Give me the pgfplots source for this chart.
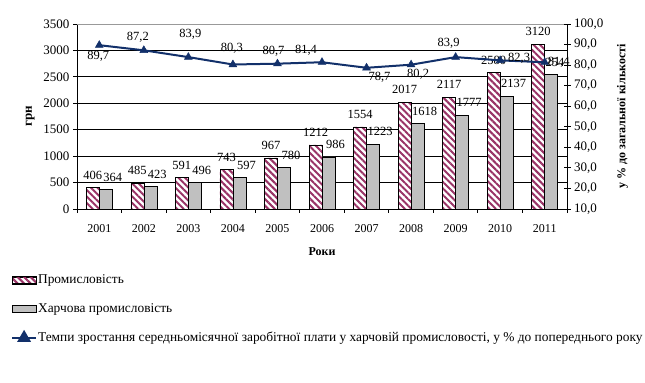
\documentclass[border=0pt]{standalone}
\usepackage{fontspec}
\setmainfont{Liberation Serif}
\usepackage{pgfplots}
\usepackage{pgfplotstable}
\pgfplotsset{compat=1.18}
\usetikzlibrary{patterns.meta}
\definecolor{plum}{HTML}{993366}
\definecolor{navy}{HTML}{12306A}
\definecolor{barg}{HTML}{C0C0C0}

\pgfplotstableread{
x prom harch
0 406 364
1 485 423
2 591 496
3 743 597
4 967 780
5 1212 986
6 1554 1223
7 2017 1618
8 2117 1777
9 2580 2137
10 3120 2541
}\bars

\pgfplotstableread{
x v lab dx dy
0 89.7 89,7 -1 -11
1 87.2 87,2 -6 13
2 83.9 83,9 2 23
3 80.3 80,3 -1 16
4 80.7 80,7 -4 12
5 81.4 81,4 -16 12
6 78.7 78,7 13 -10
7 80.2 80,2 7 -10
8 83.9 83,9 -7 14
9 82.3 82,3 19 2
10 81.4 81,4 14 0
}\linedata

\newcommand{\fs}[1]{\fontsize{#1bp}{#1bp}\selectfont}

\begin{document}
\begin{tikzpicture}
\path[use as bounding box] (0bp,0bp) rectangle (645bp,383bp);
\begin{axis}[
  at={(77bp,174bp)}, anchor=south west, scale only axis,
  width=490bp, height=185bp,
  xmin=-0.5, xmax=10.5, ymin=0, ymax=3500,
  ybar=0pt, bar width=13bp,
  axis x line*=bottom, axis y line*=left,
  axis line style={line width=0.9bp, -},
  tick align=outside,
  xtick={0,1,2,3,4,5,6,7,8,9,10},
  xticklabels={2001,2002,2003,2004,2005,2006,2007,2008,2009,2010,2011},
  major x tick style={draw=none},
  minor xtick={-0.5,0.5,1.5,2.5,3.5,4.5,5.5,6.5,7.5,8.5,9.5,10.5},
  minor x tick style={line width=0.9bp, black},
  minor tick length=4bp, major tick length=4bp,
  ytick={0,500,1000,1500,2000,2500,3000},
  extra y ticks={3500},
  extra y tick style={grid style={gray!80, line width=0.9bp}},
  ymajorgrids, grid style={black, line width=0.8bp},
  y tick style={black, line width=0.9bp},
  /pgf/number format/1000 sep={},
  /pgf/number format/assume math mode=true,
  yticklabel style={font=\fs{13}},
  xticklabel style={font=\fs{12}, yshift=-8bp},
  xlabel={\textbf{Роки}}, xlabel style={font=\fs{12}, yshift=-8bp},
  ylabel={\textbf{грн}}, ylabel style={font=\fs{13}, yshift=-6bp},
  clip=false,
  nodes near coords,
  nodes near coords style={font=\fs{12.5}, inner sep=0pt, anchor=south, yshift=8bp, text=black},
]
\addplot[draw=black, line width=0.6bp, preaction={fill=white},
  pattern={Lines[angle=-45,distance=4.6bp,line width=2bp]}, pattern color=plum]
  table[x=x,y=prom] {\bars};
\addplot[draw=black, line width=0.6bp, fill=barg,
  nodes near coords style={xshift=7bp}]
  table[x=x,y=harch] {\bars};
\end{axis}
\begin{axis}[
  at={(77bp,174bp)}, anchor=south west, scale only axis,
  width=490bp, height=185bp,
  xmin=-0.5, xmax=10.5, ymin=10, ymax=100,
  axis x line=none, axis y line*=right,
  axis line style={line width=0.9bp, -},
  ytick={10,20,30,40,50,60,70,80,90,100},
  tick align=center, major tick length=7bp,
  y tick style={black, line width=0.9bp},
  /pgf/number format/assume math mode=true,
  yticklabel style={font=\fs{13}, /pgf/number format/.cd, fixed, fixed zerofill, precision=1, use comma},
  ylabel={\textbf{у \% до загальної кількості}}, ylabel style={font=\fs{12}, yshift=-7bp},
  clip=false,
  legend cell align=left,
  legend style={at={(axis description cs:-0.141,-0.34)}, anchor=north west,
    draw=none, fill=none, font=\fs{13.4}, row sep=16bp,
    nodes={inner xsep=1bp, inner ysep=1bp}},
]
\addlegendimage{legend image code/.code={\draw[draw=black, line width=0.6bp, preaction={fill=white}, pattern={Lines[angle=-45,distance=4.6bp,line width=2bp]}, pattern color=plum] (0bp,-3.5bp) rectangle (24bp,3.5bp);}}
\addlegendentry{Промисловість}
\addlegendimage{legend image code/.code={\draw[draw=black, line width=0.6bp, fill=barg] (0bp,-3.5bp) rectangle (24bp,3.5bp);}}
\addlegendentry{Харчова промисловість}
\addplot[navy, line width=2bp, mark=triangle*, mark size=4.5bp,
  mark options={fill=navy, draw=navy, line width=0.5bp},
  legend image code/.code={\draw[navy, line width=2bp] (0bp,0bp) -- (24bp,0bp); \fill[navy] (12bp,0bp) +(90:6bp) -- +(210:6bp) -- +(330:6bp) -- cycle;},
  nodes near coords, point meta=explicit symbolic,
  visualization depends on={\thisrow{dx}\as\dx},
  visualization depends on={\thisrow{dy}\as\dy},
  nodes near coords style={font=\fs{12.5}, anchor=center, inner sep=0pt, xshift=\dx bp, yshift=\dy bp, text=black}]
  table[x=x,y=v,meta=lab] {\linedata};
\addlegendentry{Темпи зростання середньомісячної заробітної плати у харчовій промисловості, у \% до попереднього року}
\end{axis}
\end{tikzpicture}
\end{document}
